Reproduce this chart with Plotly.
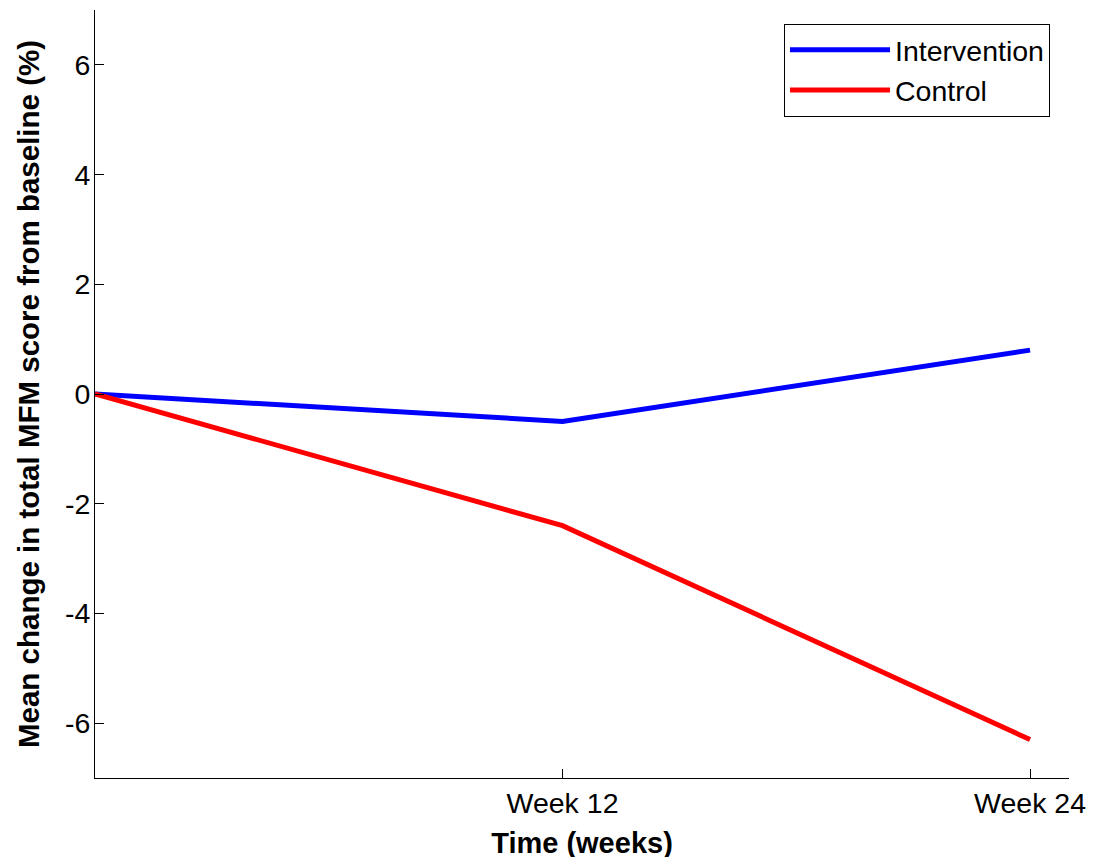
import plotly.graph_objects as go

weeks = [0, 12, 24]
week_labels = ["Week 12", "Week 24"]
week_ticks = [12, 24]
intervention = [0, -0.5, 0.8]
control = [0, -2.4, -6.3]
y_ticks = [-6, -4, -2, 0, 2, 4, 6]
y_labels = ["-6", "-4", "-2", "0", "2", "4", "6"]

FONT = "Liberation Sans, Arial, sans-serif"

fig = go.Figure()
fig.add_trace(go.Scatter(x=weeks, y=intervention, mode="lines", name="Intervention",
                         line=dict(color="#0000FF", width=5)))
fig.add_trace(go.Scatter(x=weeks, y=control, mode="lines", name="Control",
                         line=dict(color="#FF0000", width=5)))

fig.update_layout(
    width=1101, height=857,
    margin=dict(l=87, r=40, t=2, b=87, autoexpand=False),
    paper_bgcolor="white", plot_bgcolor="white",
    font=dict(family=FONT, size=28.5, color="black"),
    showlegend=True,
    legend=dict(x=0.7074, y=0.982, xanchor="left", yanchor="top",
                bordercolor="black", borderwidth=1, bgcolor="white",
                font=dict(size=28.5), itemwidth=100, tracegroupgap=0),
    xaxis=dict(range=[0, 25], tickvals=week_ticks, ticktext=week_labels,
               ticks="inside", ticklen=9, tickcolor="black", tickwidth=1,
               showline=True, linecolor="black", linewidth=1, mirror=False,
               showgrid=False, zeroline=False, automargin=True,
               title=dict(text="<b>Time (weeks)</b>", font=dict(size=29), standoff=14)),
    yaxis=dict(range=[-7, 7], tickvals=y_ticks, ticktext=y_labels,
               ticks="inside", ticklen=9, tickcolor="black", tickwidth=1,
               showline=True, linecolor="black", linewidth=1, mirror=False,
               showgrid=False, zeroline=False, automargin=True,
               ticklabelstandoff=-2,
               title=dict(text="<b>Mean change in total MFM score from baseline (%)</b>",
                          font=dict(size=29.5), standoff=16)),
)

fig.write_html("out.html")
